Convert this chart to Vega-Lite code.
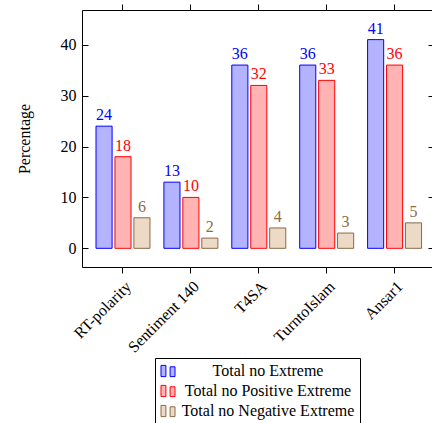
{
  "$schema": "https://vega.github.io/schema/vega-lite/v6.json",
  "width": 350,
  "height": 257,
  "autosize": {"type": "none"},
  "padding": {"left": 82, "top": 10, "right": 0, "bottom": 156},
  "config": {
    "view": {"stroke": null},
    "font": "Liberation Serif, Times New Roman, serif",
    "text": {"font": "Liberation Serif, Times New Roman, serif"},
    "axis": {
      "grid": false,
      "labelFont": "Liberation Serif, Times New Roman, serif",
      "labelFontSize": 16,
      "labelColor": "black",
      "titleFont": "Liberation Serif, Times New Roman, serif",
      "titleFontSize": 16,
      "titleFontWeight": "normal",
      "titleColor": "black",
      "domainColor": "black",
      "domainWidth": 1,
      "tickColor": "black",
      "tickWidth": 1
    },
    "legend": {
      "labelFont": "Liberation Serif, Times New Roman, serif"
    }
  },
  "data": {
    "values": [
      {"dataset": "RT-polarity", "series": "Total no Extreme", "value": 24},
      {"dataset": "RT-polarity", "series": "Total no Positive Extreme", "value": 18},
      {"dataset": "RT-polarity", "series": "Total no Negative Extreme", "value": 6},
      {"dataset": "Sentiment 140", "series": "Total no Extreme", "value": 13},
      {"dataset": "Sentiment 140", "series": "Total no Positive Extreme", "value": 10},
      {"dataset": "Sentiment 140", "series": "Total no Negative Extreme", "value": 2},
      {"dataset": "T4SA", "series": "Total no Extreme", "value": 36},
      {"dataset": "T4SA", "series": "Total no Positive Extreme", "value": 32},
      {"dataset": "T4SA", "series": "Total no Negative Extreme", "value": 4},
      {"dataset": "TurntoIslam", "series": "Total no Extreme", "value": 36},
      {"dataset": "TurntoIslam", "series": "Total no Positive Extreme", "value": 33},
      {"dataset": "TurntoIslam", "series": "Total no Negative Extreme", "value": 3},
      {"dataset": "Ansar1", "series": "Total no Extreme", "value": 41},
      {"dataset": "Ansar1", "series": "Total no Positive Extreme", "value": 36},
      {"dataset": "Ansar1", "series": "Total no Negative Extreme", "value": 5}
    ]
  },
  "layer": [
    {
      "mark": {"type": "bar", "strokeWidth": 1},
      "encoding": {
        "x": {
          "field": "dataset",
          "type": "nominal",
          "sort": ["RT-polarity", "Sentiment 140", "T4SA", "TurntoIslam", "Ansar1"],
          "scale": {"paddingInner": 0.205, "paddingOuter": 0.18, "align": 0.573},
          "axis": {"orient": "bottom", "title": null, "labelAngle": -45, "tickSize": 6, "labelPadding": 5, "domain": true}
        },
        "xOffset": {
          "field": "series",
          "type": "nominal",
          "sort": ["Total no Extreme", "Total no Positive Extreme", "Total no Negative Extreme"],
          "scale": {"paddingInner": 0.15, "paddingOuter": 0}
        },
        "y": {
          "field": "value",
          "type": "quantitative",
          "scale": {"domain": [-3.67, 46.82], "nice": false, "zero": false},
          "axis": {"orient": "left", "title": "Percentage", "values": [0, 10, 20, 30, 40], "tickSize": -6, "labelPadding": 12, "titlePadding": 28, "domain": true}
        },
        "y2": {"datum": 0},
        "fill": {
          "field": "series",
          "type": "nominal",
          "scale": {
            "domain": ["Total no Extreme", "Total no Positive Extreme", "Total no Negative Extreme"],
            "range": ["#b3b3ff", "#ffb3b3", "#ecd9c6"]
          },
          "legend": {
            "title": null,
            "orient": "none",
            "legendX": 73,
            "legendY": 348,
            "direction": "vertical",
            "padding": 5,
            "strokeColor": "black",
            "fillColor": "white",
            "symbolType": "M-1,-0.8H-0.3V0.8H-1Z M0.3,-0.6H1V0.8H0.3Z",
            "symbolSize": 196,
            "symbolStrokeWidth": 1,
            "labelFont": "Liberation Serif, Times New Roman, serif",
            "labelFontSize": 16,
            "labelColor": "black",
            "labelAlign": "center",
            "labelOffset": 92,
            "labelLimit": 400,
            "rowPadding": 4
          }
        },
        "stroke": {
          "field": "series",
          "type": "nominal",
          "scale": {
            "domain": ["Total no Extreme", "Total no Positive Extreme", "Total no Negative Extreme"],
            "range": ["#0000ff", "#ff0000", "#8c6a47"]
          },
          "legend": {
            "title": null,
            "orient": "none",
            "legendX": 73,
            "legendY": 348,
            "direction": "vertical",
            "padding": 5,
            "strokeColor": "black",
            "fillColor": "white",
            "symbolType": "M-1,-0.8H-0.3V0.8H-1Z M0.3,-0.6H1V0.8H0.3Z",
            "symbolSize": 196,
            "symbolStrokeWidth": 1,
            "labelFont": "Liberation Serif, Times New Roman, serif",
            "labelFontSize": 16,
            "labelColor": "black",
            "labelAlign": "center",
            "labelOffset": 92,
            "labelLimit": 400,
            "rowPadding": 4
          }
        }
      }
    },
    {
      "mark": {"type": "text", "baseline": "alphabetic", "dy": -6, "fontSize": 16, "font": "Liberation Serif, Times New Roman, serif"},
      "encoding": {
        "x": {
          "field": "dataset",
          "type": "nominal",
          "sort": ["RT-polarity", "Sentiment 140", "T4SA", "TurntoIslam", "Ansar1"],
          "axis": {"orient": "top", "title": null, "labels": false, "tickSize": 6, "domain": true}
        },
        "xOffset": {
          "field": "series",
          "type": "nominal",
          "sort": ["Total no Extreme", "Total no Positive Extreme", "Total no Negative Extreme"]
        },
        "y": {
          "field": "value",
          "type": "quantitative",
          "axis": {"orient": "right", "title": null, "labels": false, "values": [0, 10, 20, 30, 40], "tickSize": -4, "domain": false}
        },
        "text": {"field": "value", "type": "quantitative"},
        "color": {
          "field": "series",
          "type": "nominal",
          "scale": {
            "domain": ["Total no Extreme", "Total no Positive Extreme", "Total no Negative Extreme"],
            "range": ["#0000ff", "#ff0000", "#8c6a47"]
          },
          "legend": null
        }
      }
    }
  ],
  "resolve": {"axis": {"x": "independent", "y": "independent"}}
}
